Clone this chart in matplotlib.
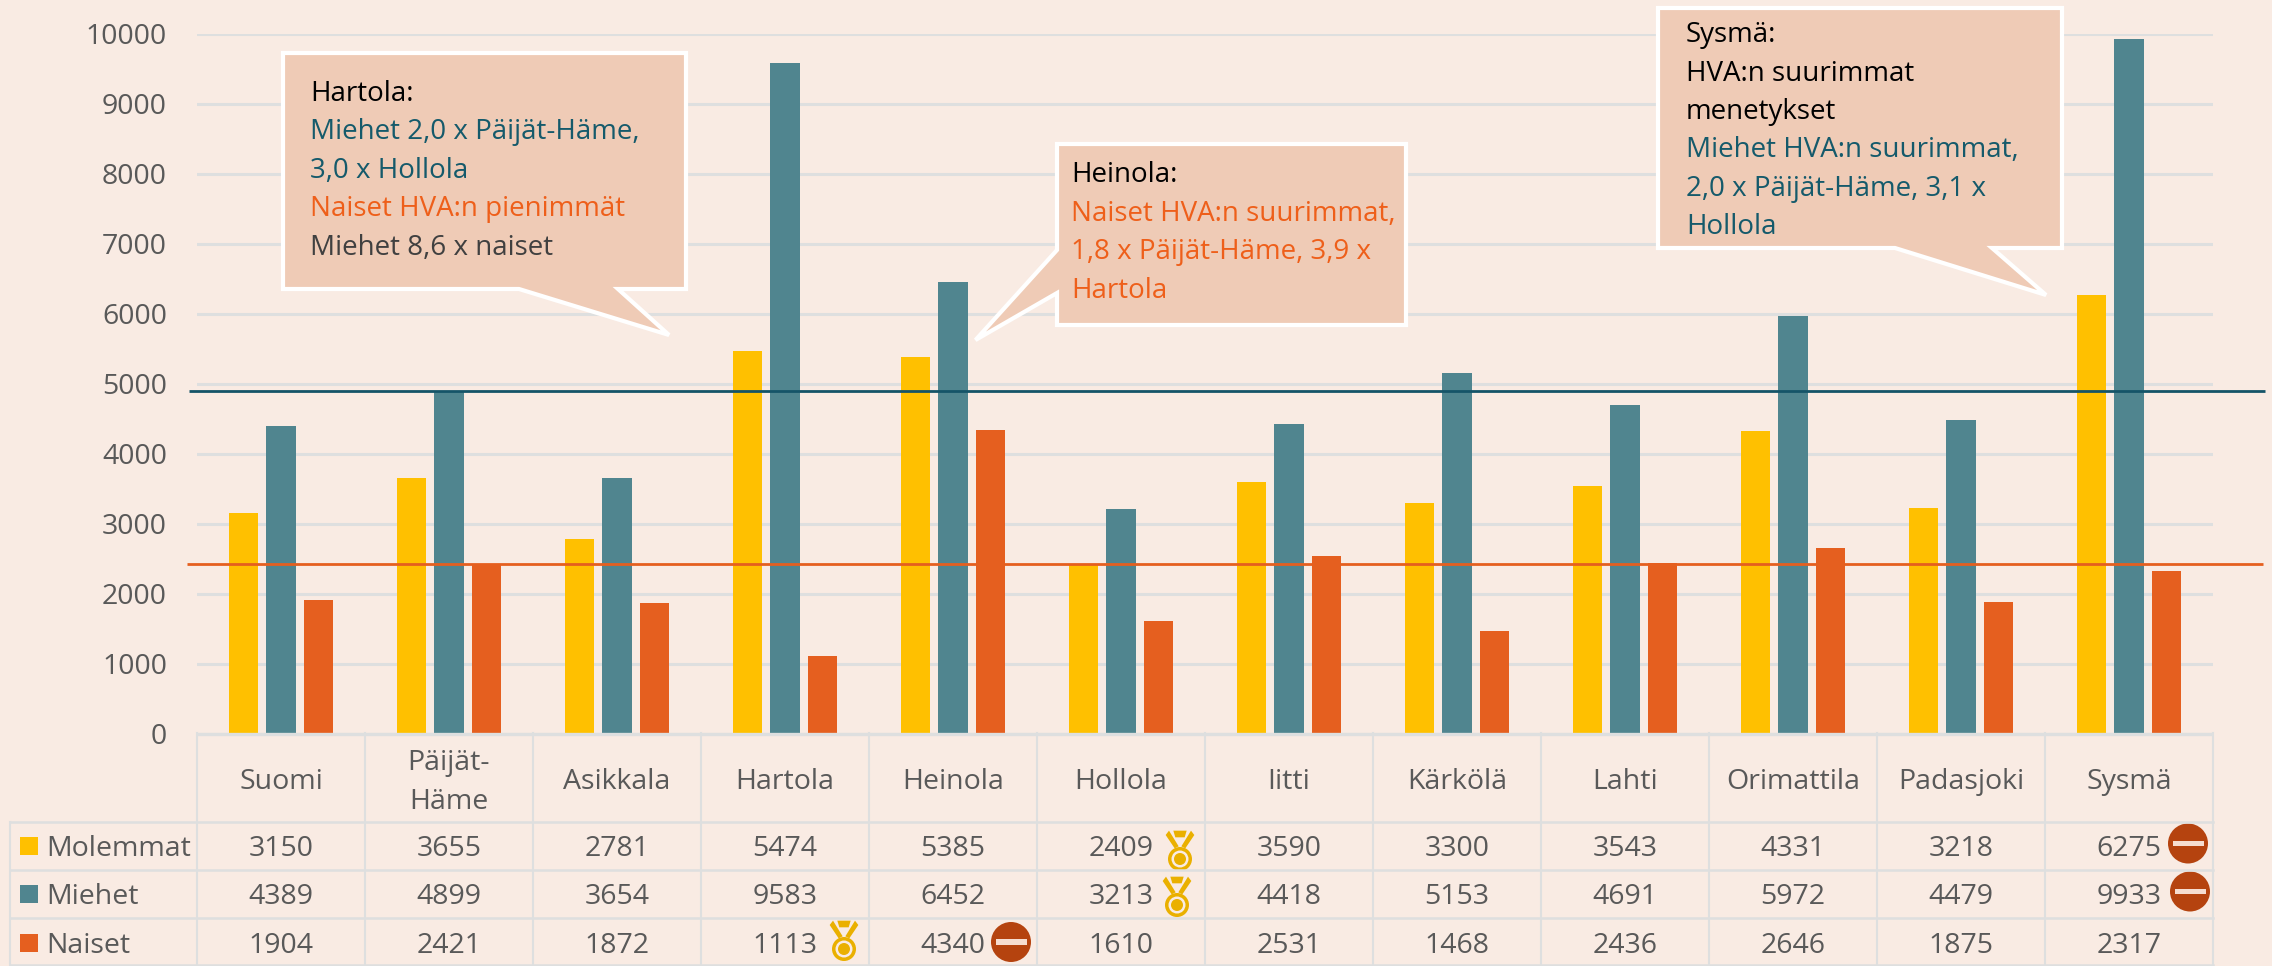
# HVA menetykset kunnittain: pylvaat ja datataulukko
import matplotlib
matplotlib.use('Agg')
import numpy as np
import matplotlib.pyplot as plt
from matplotlib.patches import Polygon, Circle, Rectangle

kunnat = ['Suomi', 'Päijät-\nHäme', 'Asikkala', 'Hartola', 'Heinola', 'Hollola',
          'Iitti', 'Kärkölä', 'Lahti', 'Orimattila', 'Padasjoki', 'Sysmä']
molemmat = [3150, 3655, 2781, 5474, 5385, 2409, 3590, 3300, 3543, 4331, 3218, 6275]
miehet = [4389, 4899, 3654, 9583, 6452, 3213, 4418, 5153, 4691, 5972, 4479, 9933]
naiset = [1904, 2421, 1872, 1113, 4340, 1610, 2531, 1468, 2436, 2646, 1875, 2317]
y_ticks = list(range(0, 10001, 1000))
ref_miehet = 4899
ref_naiset = 2421

W, H = 2272, 966
BG = '#F9EBE3'
GRID = '#DEDFDF'
TXT = '#595959'
YEL = '#FFC000'
TEAL = '#50858F'
ORA = '#E55F1F'
TEAL_T = '#155A6B'
ORA_T = '#EE5F1A'
FILL = '#EFCBB6'
GOLD = '#EAB000'
RED = '#B5430F'
FS = 20.5

plt.rcParams['font.family'] = ['Open Sans', 'DejaVu Sans']

fig = plt.figure(figsize=(W / 100, H / 100), dpi=100, facecolor=BG)

# Main chart
L, R, T, B = 197, 2213, 34, 733.5
ax = fig.add_axes([L / W, 1 - B / H, (R - L) / W, (B - T) / H], facecolor='none')
x = np.arange(len(kunnat))
step, bw = 0.222, 0.176
ax.bar(x - step, molemmat, bw, color=YEL, zorder=3)
ax.bar(x, miehet, bw, color=TEAL, zorder=3)
ax.bar(x + step, naiset, bw, color=ORA, zorder=3)
ax.set_xlim(-0.5, 11.5)
ax.set_ylim(0, 10000)
ax.set_yticks(y_ticks)
ax.set_xticks([])
ax.tick_params(axis='y', length=0, pad=30 * 0.72, labelsize=FS, labelcolor=TXT)
ax.yaxis.grid(True, color=GRID, lw=2.2, zorder=1)
ax.set_axisbelow(True)
for s in ax.spines.values():
    s.set_visible(False)

# Reference lines run a bit outside the plot area
ax.hlines(ref_miehet, -0.5 - 8 / 168, 11.5 + 52 / 168, color='#155468', lw=2, zorder=4, clip_on=False)
ax.hlines(ref_naiset, -0.5 - 10 / 168, 11.5 + 50 / 168, color=ORA, lw=2, zorder=4, clip_on=False)

# Overlay in pixel coordinates for table, icons and callouts
ov = fig.add_axes([0, 0, 1, 1], facecolor='none')
ov.set_xlim(0, W)
ov.set_ylim(H, 0)
ov.axis('off')

CW = (R - L) / 12
def cx(i):
    return L + (i + 0.5) * CW

# Table lines
rows = [822, 870, 918, 965]
ov.plot([L, R], [733.5, 733.5], color=GRID, lw=2.4, solid_capstyle='butt')
for i in range(13):
    ov.plot([L + i * CW] * 2, [733, 966], color=GRID, lw=1.5)
for y in rows:
    ov.plot([10, R], [y, y], color=GRID, lw=1.8)
ov.plot([10, 10], [822, 966], color=GRID, lw=1.5)

# Table text
for i, k in enumerate(kunnat):
    if '\n' in k:
        a, b = k.split('\n')
        ov.text(cx(i), 770, a, ha='center', va='baseline', fontsize=FS, color=TXT)
        ov.text(cx(i), 809, b, ha='center', va='baseline', fontsize=FS, color=TXT)
    else:
        ov.text(cx(i), 789, k, ha='center', va='baseline', fontsize=FS, color=TXT)

series = [('Molemmat', molemmat, YEL, 856), ('Miehet', miehet, TEAL, 904), ('Naiset', naiset, ORA, 953)]
for name, vals, col, base in series:
    ov.add_patch(Rectangle((20, base - 19), 18, 18, color=col, lw=0))
    ov.text(46, base, name, ha='left', va='baseline', fontsize=FS, color=TXT)
    for i, v in enumerate(vals):
        ov.text(cx(i), base, str(v), ha='center', va='baseline', fontsize=FS, color=TXT)


def medal(px, py):
    # px, py = centre of the medal disc
    for pts in ([(-20, -85), (20, -85), (14, -65), (-14, -65)],
                [(-43, -72), (-33, -85), (-4, -38), (-16, -32)],
                [(43, -72), (33, -85), (4, -38), (16, -32)]):
        ov.add_patch(Polygon([(px + a / 3, py + b / 3) for a, b in pts], color=GOLD, lw=0))
    ov.add_patch(Circle((px, py), 12, color=GOLD, lw=0))
    ov.add_patch(Circle((px, py), 8.5, color=BG, lw=0))
    ov.add_patch(Circle((px, py), 6, color=GOLD, lw=0))


def no_entry(px, py):
    ov.add_patch(Circle((px, py), 20, color=RED, lw=0))
    ov.add_patch(Rectangle((px - 15.5, py - 2.7), 31, 5.4, color='#F6DDD0', lw=0))


medal(844, 949)
medal(1180, 859)
medal(1177, 905)
no_entry(1011, 942)
no_entry(2188, 843.5)
no_entry(2190, 891.5)


def callout(pts, lines, tx, bases):
    ov.add_patch(Polygon(pts, closed=True, fc=FILL, ec='white', lw=3, joinstyle='miter', zorder=6))
    for (txt, col), by in zip(lines, bases):
        ov.text(tx, by, txt, color=col, fontsize=20, ha='left', va='baseline', zorder=7)


callout([(283, 53), (686, 53), (686, 289), (618, 289), (669, 335), (519, 289), (283, 289)],
        [('Hartola:', 'black'),
         ('Miehet 2,0 x Päijät-Häme,', TEAL_T),
         ('3,0 x Hollola', TEAL_T),
         ('Naiset HVA:n pienimmät', ORA_T),
         ('Miehet 8,6 x naiset', '#404040')],
        310, [101, 139, 178, 216, 255])

callout([(1057, 144), (1406, 144), (1406, 325), (1057, 325), (1057, 293), (975.5, 340), (1057, 250)],
        [('Heinola:', 'black'),
         ('Naiset HVA:n suurimmat,', ORA_T),
         ('1,8 x Päijät-Häme, 3,9 x', ORA_T),
         ('Hartola', ORA_T)],
        1071, [182, 221, 259, 298])

callout([(1658, 8), (2062, 8), (2062, 248), (1992, 248), (2046, 295), (1895, 248), (1658, 248)],
        [('Sysmä:', 'black'),
         ('HVA:n suurimmat', 'black'),
         ('menetykset', 'black'),
         ('Miehet HVA:n suurimmat,', TEAL_T),
         ('2,0 x Päijät-Häme, 3,1 x', TEAL_T),
         ('Hollola', TEAL_T)],
        1686, [42, 81, 119, 157, 196, 234])

fig.savefig('out.png', dpi=100, facecolor=BG)
